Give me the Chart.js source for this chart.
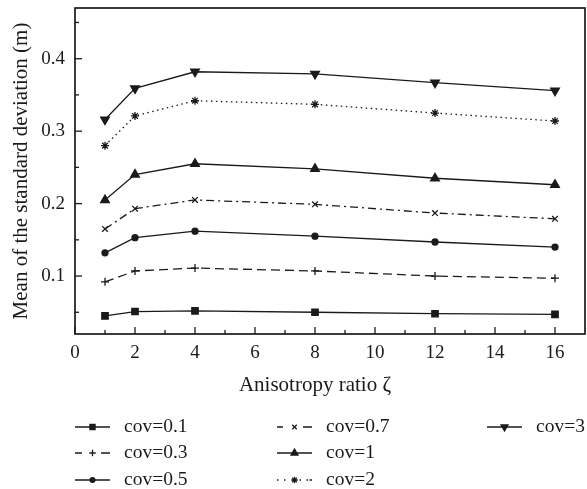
<!DOCTYPE html>
<html>
<head>
<meta charset="utf-8">
<script src="https://cdn.jsdelivr.net/npm/chart.js@4.4.1/dist/chart.umd.min.js"></script>
<style>
  html, body { margin: 0; padding: 0; background: #fff; overflow: hidden; }
  #wrap { position: relative; width: 587px; height: 489px; }
</style>
</head>
<body>
<div id="wrap"><canvas id="chart"></canvas></div>
<script>
// Anisotropy ratio (x values)
const ratios = [1, 2, 4, 8, 12, 16];

// Series names
const covLabels = ['cov=0.1', 'cov=0.3', 'cov=0.5', 'cov=0.7', 'cov=1', 'cov=2', 'cov=3'];

// Mean of the standard deviation (m)
const cov01 = [0.045, 0.051, 0.052, 0.050, 0.048, 0.047];
const cov03 = [0.092, 0.107, 0.111, 0.107, 0.100, 0.097];
const cov05 = [0.132, 0.153, 0.162, 0.155, 0.147, 0.140];
const cov07 = [0.165, 0.193, 0.205, 0.199, 0.187, 0.179];
const cov1  = [0.205, 0.240, 0.255, 0.248, 0.235, 0.226];
const cov2  = [0.280, 0.321, 0.342, 0.337, 0.325, 0.314];
const cov3  = [0.316, 0.359, 0.382, 0.379, 0.367, 0.356];

// Axis ticks
const xTicks = [0, 2, 4, 6, 8, 10, 12, 14, 16];
const xMinorTicks = [1, 3, 5, 7, 9, 11, 13, 15];
const yTicks = [0.1, 0.2, 0.3, 0.4];
const yMinorTicks = [0.05, 0.15, 0.25, 0.35, 0.45];

const xTitle = 'Anisotropy ratio ζ';
const yTitle = 'Mean of the standard deviation (m)';

// Styles per series
const ink = '#1a1a1a';
const pointStyles = ['rect', 'cross', 'circle', 'crossRot', 'triangle', 'star', 'triangle'];
const pointRotations = [0, 0, 0, 0, 0, 0, 180];
const pointRadii = [4.5, 4, 3, 4, 5, 4, 5];
const dashes = [[], [9, 5], [], [8, 4, 2, 4], [], [1.5, 3.5], []];
const legendDashes = [[], [7, 19, 9], [], [6, 20, 9], [], [1.5, 5.5, 1.5, 14, 1.5, 5.5, 1.5], []];

const fontFamily = '"Liberation Serif", "Times New Roman", serif';
const tickFont = { family: fontFamily, size: 19 };
const titleFont = { family: fontFamily, size: 21 };
const legendFont = '19.5px ' + fontFamily;

const seriesValues = [cov01, cov03, cov05, cov07, cov1, cov2, cov3];

const datasets = seriesValues.map((vals, i) => ({
  label: covLabels[i],
  data: ratios.map((r, j) => ({ x: r, y: vals[j] })),
  borderColor: ink,
  backgroundColor: ink,
  borderWidth: 1.3,
  borderDash: dashes[i],
  pointStyle: pointStyles[i],
  pointRotation: pointRotations[i],
  pointRadius: pointRadii[i],
  pointBorderWidth: 1.3,
  pointBorderColor: ink,
  pointBackgroundColor: ink,
  tension: 0
}));

// Frame around plot area, inward major/minor ticks, and x title under the tick range
const frameTicks = {
  id: 'frameTicks',
  afterDraw(chart) {
    const { ctx, chartArea: a, scales } = chart;
    ctx.save();
    ctx.strokeStyle = ink;
    ctx.lineWidth = 1.3;
    xTicks.forEach(v => tick(ctx, scales.x.getPixelForValue(v), a.bottom, 0, -7));
    xMinorTicks.forEach(v => tick(ctx, scales.x.getPixelForValue(v), a.bottom, 0, -4));
    yTicks.forEach(v => tick(ctx, a.left, scales.y.getPixelForValue(v), 7, 0));
    yMinorTicks.forEach(v => tick(ctx, a.left, scales.y.getPixelForValue(v), 4, 0));
    ctx.lineWidth = 1.7;
    ctx.strokeRect(a.left, a.top, a.right - a.left, a.bottom - a.top);

    const cx = (scales.x.getPixelForValue(xTicks[0]) + scales.x.getPixelForValue(xTicks[xTicks.length - 1])) / 2;
    ctx.fillStyle = ink;
    ctx.font = titleFont.size + 'px ' + fontFamily;
    ctx.textAlign = 'center';
    ctx.textBaseline = 'middle';
    ctx.fillText(xTitle, cx, a.bottom + 51);
    ctx.restore();
  }
};

function tick(ctx, x, y, dx, dy) {
  ctx.beginPath();
  ctx.moveTo(x, y);
  ctx.lineTo(x + dx, y + dy);
  ctx.stroke();
}

// Legend laid out in three columns below the axis title
const legendCols = [75, 277, 487];
const legendRows = [427, 453, 480];

const gridLegend = {
  id: 'gridLegend',
  afterDraw(chart) {
    const ctx = chart.ctx;
    ctx.save();
    chart.data.datasets.forEach((ds, i) => {
      const x = legendCols[Math.floor(i / 3)];
      const y = legendRows[i % 3];
      ctx.strokeStyle = ink;
      ctx.fillStyle = ink;
      ctx.lineWidth = ds.borderWidth;
      ctx.setLineDash(legendDashes[i]);
      ctx.beginPath();
      ctx.moveTo(x, y);
      ctx.lineTo(x + 35, y);
      ctx.stroke();
      ctx.setLineDash([]);
      Chart.helpers.drawPoint(ctx, {
        pointStyle: ds.pointStyle,
        rotation: ds.pointRotation,
        radius: ds.pointRadius * 0.8,
        borderWidth: ds.pointBorderWidth
      }, x + 17.5, y);
      ctx.font = legendFont;
      ctx.textBaseline = 'middle';
      ctx.fillText(ds.label, x + 49, y);
    });
    ctx.restore();
  }
};

new Chart(document.getElementById('chart'), {
  type: 'line',
  data: { datasets },
  options: {
    responsive: true,
    maintainAspectRatio: false,
    animation: false,
    layout: { autoPadding: false, padding: { top: 8, right: 2, left: 0, bottom: 0 } },
    plugins: {
      legend: { display: false },
      tooltip: { enabled: false }
    },
    scales: {
      x: {
        type: 'linear',
        min: 0,
        max: 17,
        afterBuildTicks: s => { s.ticks = xTicks.map(v => ({ value: v })); },
        afterFit: s => { s.height = 155; },
        grid: { display: false, drawTicks: false },
        border: { display: false },
        ticks: { font: tickFont, color: ink, padding: 8, maxRotation: 0, autoSkip: false },
        title: { display: false }
      },
      y: {
        type: 'linear',
        min: 0.02,
        max: 0.47,
        afterBuildTicks: s => { s.ticks = yTicks.map(v => ({ value: v })); },
        afterFit: s => { s.width = 75; s.paddingTop = 0; s.paddingBottom = 0; },
        grid: { display: false, drawTicks: false },
        border: { display: false },
        ticks: { font: tickFont, color: ink, padding: 10, callback: v => v.toFixed(1) },
        title: {
          display: true,
          text: yTitle,
          font: titleFont,
          color: ink,
          padding: { top: 9, bottom: 0 }
        }
      }
    }
  },
  plugins: [frameTicks, gridLegend]
});
</script>
</body>
</html>
